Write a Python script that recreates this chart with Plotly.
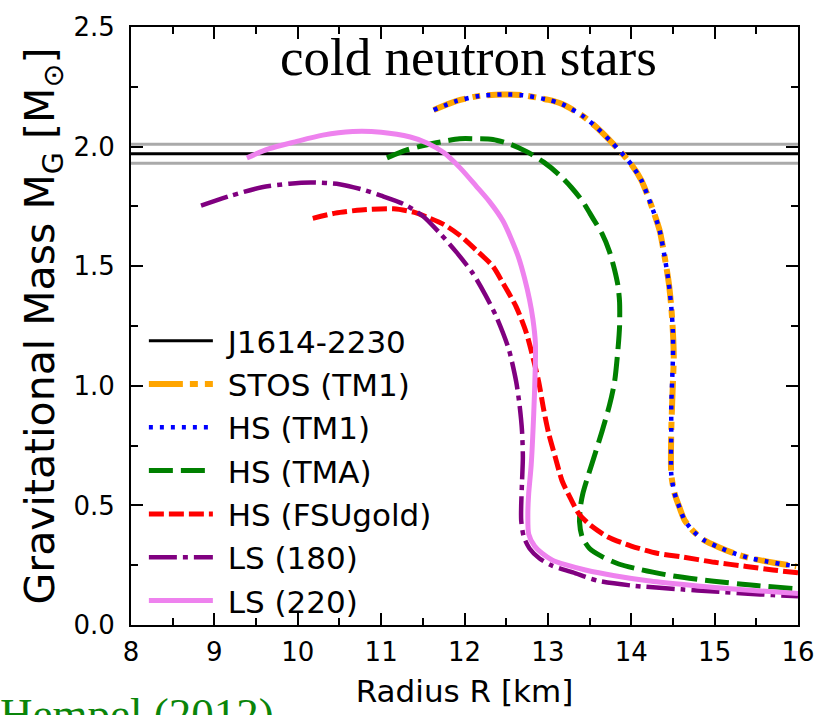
import plotly.graph_objects as go

# Pulsar mass constraint J1614-2230: 1.97 +/- 0.04 solar masses
psr_r = [8.0, 16.0]
psr_mass = 1.97
psr_err = 0.04

# Mass-radius relations (R in km, M in solar masses)
stos_tm1_r = [11.63, 11.9, 12.18, 12.46, 12.7, 13.01, 13.17, 13.41, 13.57, 13.76, 13.88, 14.0, 14.12, 14.24,
              14.34, 14.4, 14.45, 14.48, 14.5, 14.51, 14.5, 14.49, 14.48, 14.48, 14.52, 14.58, 14.64, 14.75,
              14.87, 15.05, 15.23, 15.42, 15.62, 15.8, 15.98]
stos_tm1_m = [2.153, 2.19, 2.212, 2.218, 2.215, 2.195, 2.178, 2.13, 2.085, 2.02, 1.975, 1.926, 1.86, 1.755,
              1.65, 1.54, 1.43, 1.33, 1.223, 1.12, 1.017, 0.92, 0.81, 0.63, 0.55, 0.49, 0.438, 0.39,
              0.355, 0.325, 0.30, 0.28, 0.266, 0.255, 0.245]

hs_tm1_r = [11.63, 11.9, 12.18, 12.46, 12.7, 13.01, 13.17, 13.41, 13.57, 13.76, 13.88, 14.0, 14.12, 14.24,
            14.34, 14.4, 14.45, 14.48, 14.5, 14.5, 14.49, 14.48, 14.48, 14.48, 14.52, 14.58, 14.64, 14.75,
            14.87, 15.05, 15.23, 15.42, 15.62, 15.8, 15.98]
hs_tm1_m = [2.153, 2.19, 2.212, 2.218, 2.215, 2.195, 2.178, 2.13, 2.085, 2.02, 1.975, 1.926, 1.86, 1.755,
            1.65, 1.54, 1.43, 1.33, 1.223, 1.12, 1.017, 0.92, 0.81, 0.63, 0.55, 0.49, 0.438, 0.39,
            0.355, 0.325, 0.30, 0.28, 0.266, 0.255, 0.245]

hs_tma_r = [11.07, 11.3, 11.55, 11.75, 11.94, 12.14, 12.34, 12.55, 12.74, 12.95, 13.13, 13.28, 13.41, 13.54,
            13.65, 13.74, 13.8, 13.84, 13.86, 13.86, 13.84, 13.8, 13.74, 13.65, 13.57, 13.49, 13.42, 13.39,
            13.38, 13.41, 13.5, 13.65, 13.85, 14.12, 14.5, 14.99, 15.5, 16.0]
hs_tma_m = [1.953, 1.985, 2.008, 2.022, 2.033, 2.033, 2.03, 2.01, 1.98, 1.935, 1.884, 1.83, 1.774, 1.70,
            1.636, 1.56, 1.485, 1.42, 1.35, 1.25, 1.15, 1.017, 0.92, 0.81, 0.72, 0.632, 0.55, 0.493,
            0.43, 0.369, 0.32, 0.286, 0.255, 0.231, 0.205, 0.183, 0.165, 0.151]

hs_fsu_r = [10.18, 10.45, 10.76, 11.15, 11.4, 11.55, 11.75, 11.94, 12.14, 12.34, 12.46, 12.62, 12.74, 12.82,
            12.89, 12.95, 13.01, 13.09, 13.17, 13.27, 13.37, 13.5, 13.72, 14.0, 14.31, 14.6, 15.0, 15.38,
            15.7, 16.0]
hs_fsu_m = [1.70, 1.722, 1.735, 1.74, 1.725, 1.705, 1.675, 1.63, 1.567, 1.5, 1.43, 1.33, 1.223, 1.12,
            1.017, 0.90, 0.80, 0.70, 0.603, 0.53, 0.466, 0.42, 0.368, 0.33, 0.30, 0.285, 0.262, 0.245,
            0.23, 0.218]

ls180_r = [8.84, 9.2, 9.57, 9.9, 10.16, 10.5, 10.76, 11.0, 11.27, 11.5, 11.71, 11.9, 12.1, 12.25, 12.38,
           12.53, 12.62, 12.66, 12.69, 12.70, 12.69, 12.68, 12.68, 12.71, 12.78, 12.9, 13.05, 13.3, 13.6,
           14.0, 14.6, 15.0, 15.4, 15.7, 16.0]
ls180_m = [1.753, 1.795, 1.83, 1.845, 1.85, 1.843, 1.822, 1.795, 1.76, 1.71, 1.636, 1.56, 1.47, 1.38, 1.29,
           1.154, 1.017, 0.92, 0.81, 0.70, 0.60, 0.50, 0.438, 0.37, 0.32, 0.278, 0.248, 0.22, 0.185,
           0.165, 0.149, 0.14, 0.131, 0.125, 0.12]

ls220_r = [9.39, 9.65, 9.97, 10.3, 10.66, 11.0, 11.35, 11.55, 11.75, 11.95, 12.14, 12.30, 12.46, 12.56,
           12.65, 12.72, 12.78, 12.82, 12.85, 12.85, 12.83, 12.80, 12.77, 12.76, 12.77, 12.84, 12.93, 13.05,
           13.21, 13.45, 13.8, 14.2, 14.6, 15.0, 15.38, 15.7, 16.0]
ls220_m = [1.953, 1.99, 2.02, 2.048, 2.063, 2.06, 2.04, 2.015, 1.975, 1.91, 1.835, 1.77, 1.69, 1.615,
           1.535, 1.45, 1.36, 1.28, 1.18, 1.09, 0.88, 0.67, 0.55, 0.466, 0.38, 0.33, 0.30, 0.272,
           0.252, 0.23, 0.206, 0.185, 0.17, 0.157, 0.146, 0.139, 0.132]

x_range = [8, 16]
y_range = [0, 2.5]

SANS = "DejaVu Sans, Verdana, sans-serif"
SERIF = "Liberation Serif, Times New Roman, serif"
PAD = "\u00a0"  # small gap between legend sample and label


def curve(color, width, dash=None):
    return dict(color=color, width=width, dash=dash, shape="spline", smoothing=0.7)


fig = go.Figure()

# error band edges of the pulsar mass
for m in (psr_mass - psr_err, psr_mass + psr_err):
    fig.add_trace(go.Scatter(x=psr_r, y=[m, m], mode="lines", showlegend=False,
                             line=dict(color="#aaaaaa", width=3), hoverinfo="skip"))

fig.add_trace(go.Scatter(x=psr_r, y=[psr_mass, psr_mass], mode="lines", name=PAD + "J1614-2230",
                         line=dict(color="black", width=3)))
fig.add_trace(go.Scatter(x=stos_tm1_r, y=stos_tm1_m, mode="lines", name=PAD + "STOS (TM1)",
                         line=curve("#FFA500", 6, "34px,7px,8px,7px")))
fig.add_trace(go.Scatter(x=hs_tm1_r, y=hs_tm1_m, mode="lines", name=PAD + "HS (TM1)",
                         line=curve("#0000FF", 4.5, "4px,7px")))
fig.add_trace(go.Scatter(x=hs_tma_r, y=hs_tma_m, mode="lines", name=PAD + "HS (TMA)",
                         line=curve("#008000", 5, "24px,8px")))
fig.add_trace(go.Scatter(x=hs_fsu_r, y=hs_fsu_m, mode="lines", name=PAD + "HS (FSUgold)",
                         line=curve("#FF0000", 5, "15px,5px")))
fig.add_trace(go.Scatter(x=ls180_r, y=ls180_m, mode="lines", name=PAD + "LS (180)",
                         line=curve("#800080", 4.5, "28px,6px,5px,6px")))
fig.add_trace(go.Scatter(x=ls220_r, y=ls220_m, mode="lines", name=PAD + "LS (220)",
                         line=curve("#EE82EE", 5)))

axis_common = dict(
    showline=True, linecolor="black", linewidth=2, mirror="allticks",
    ticks="inside", ticklen=12, tickwidth=2, tickcolor="black",
    showgrid=False, zeroline=False, tickmode="linear",
    tickfont=dict(family=SANS, size=26, color="black"),
)

fig.update_xaxes(range=x_range, tick0=8, dtick=1,
                 minor=dict(dtick=0.5, ticks="inside", ticklen=7, tickwidth=2, tickcolor="black"),
                 title=dict(text="Radius R [km]", font=dict(family=SANS, size=31, color="black"), standoff=14),
                 ticklabelstandoff=3,
                 **axis_common)
fig.update_yaxes(range=y_range, tick0=0, dtick=0.5, tickformat=".1f",
                 minor=dict(dtick=0.25, ticks="inside", ticklen=7, tickwidth=2, tickcolor="black"),
                 title=dict(text="Gravitational Mass M<sub>G</sub> [M<sub>⊙</sub>]",
                            font=dict(family=SANS, size=41, color="black"), standoff=6),
                 ticklabelstandoff=9,
                 **axis_common)

fig.add_annotation(text="cold neutron stars", x=0.506, y=0.95, xref="paper", yref="paper",
                   showarrow=False, xanchor="center", yanchor="middle",
                   font=dict(family=SERIF, size=53, color="black"))
fig.add_annotation(text="Hempel (2012)", x=-0.199, y=-0.104, xref="paper", yref="paper",
                   showarrow=False, xanchor="left", yanchor="top",
                   font=dict(family=SERIF, size=45, color="#0a850a"))

fig.update_layout(
    width=827, height=715,
    margin=dict(l=131, r=21, t=20, b=88),
    paper_bgcolor="white", plot_bgcolor="white",
    legend=dict(x=0.0193, y=0.52, xanchor="left", yanchor="top",
                bgcolor="rgba(0,0,0,0)", borderwidth=0, itemwidth=64,
                font=dict(family=SANS, size=31, color="black")),
)

fig.write_html("out.html")
